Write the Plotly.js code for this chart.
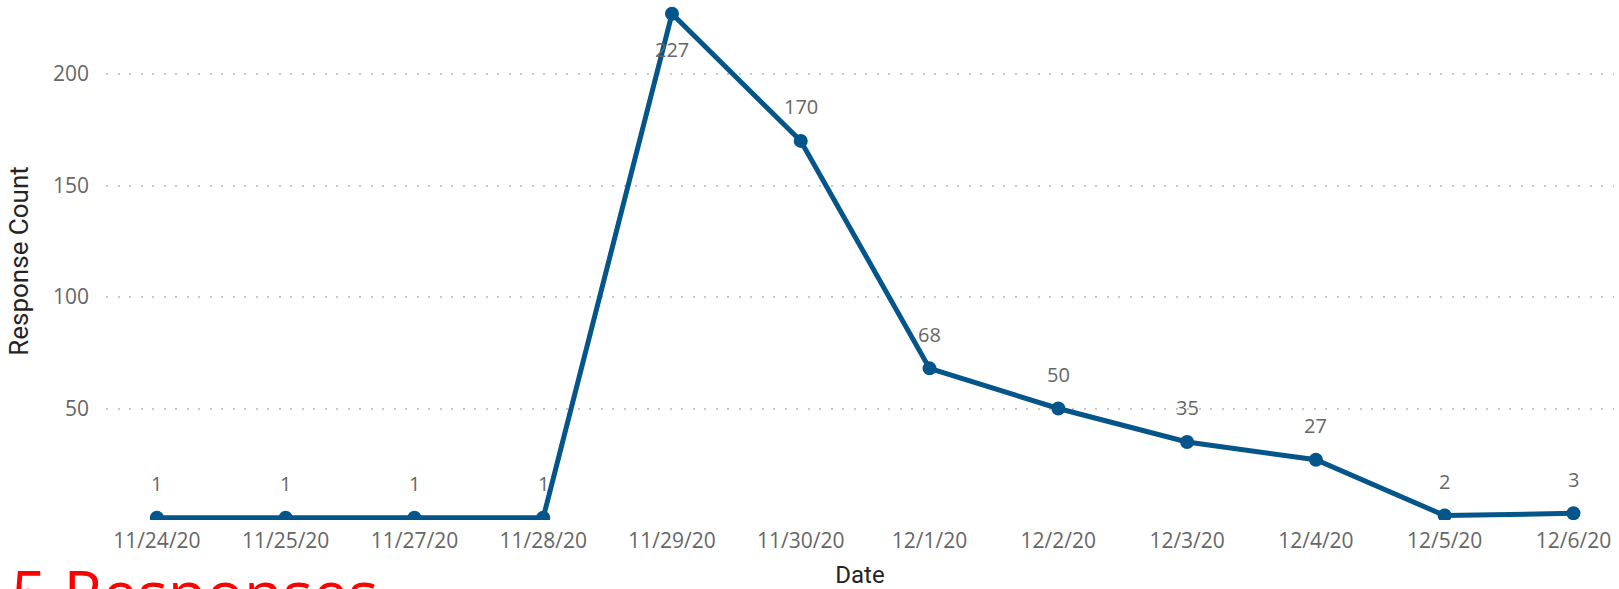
<!DOCTYPE html>
<html>
<head>
<meta charset="utf-8">
<script src="https://cdn.plot.ly/plotly-3.0.1.min.js"></script>
<style>
  html, body { margin: 0; padding: 0; background: #ffffff; }
  #chart { width: 1619px; height: 589px; }
</style>
</head>
<body>
<div id="chart"></div>
<script>
// ---- Data ----
const dates = ['11/24/20', '11/25/20', '11/27/20', '11/28/20', '11/29/20', '11/30/20',
               '12/1/20', '12/2/20', '12/3/20', '12/4/20', '12/5/20', '12/6/20'];
const responseCounts = [1, 1, 1, 1, 227, 170, 68, 50, 35, 27, 2, 3];
const yTickValues = [50, 100, 150, 200];
const footerText = '5 Responses';

const lineColor = '#03558A';
const labelColor = '#666666';

// data labels as annotations (below the point when it's at the top)
const yMax = 232.3;
const annotations = dates.map((d, i) => ({
  x: d,
  y: responseCounts[i],
  xref: 'x',
  yref: 'y',
  text: String(responseCounts[i]),
  showarrow: false,
  xanchor: 'center',
  yanchor: 'middle',
  yshift: responseCounts[i] > yMax - 20 ? -36 : 34,
  font: { family: 'Open Sans, sans-serif', size: 20, color: labelColor }
}));

annotations.push({
  xref: 'paper', yref: 'paper',
  x: -0.0645, y: -0.052,
  xanchor: 'left', yanchor: 'top',
  text: footerText,
  showarrow: false,
  font: { family: 'Open Sans, sans-serif', size: 63, color: '#FF0000' }
});

const trace = {
  type: 'scatter',
  mode: 'lines+markers',
  x: dates,
  y: responseCounts,
  line: { color: lineColor, width: 5 },
  marker: { color: lineColor, size: 14 },
  cliponaxis: true,
  hoverinfo: 'x+y'
};

const layout = {
  width: 1619,
  height: 589,
  margin: { l: 106, r: 5, t: 2, b: 69 },
  paper_bgcolor: '#ffffff',
  plot_bgcolor: '#ffffff',
  showlegend: false,
  xaxis: {
    type: 'category',
    categoryarray: dates,
    range: [-0.395, 11.315],
    showgrid: false,
    zeroline: false,
    showline: false,
    ticks: '',
    ticklabelstandoff: 6,
    tickfont: { family: 'Open Sans, sans-serif', size: 21, color: labelColor },
    title: {
      text: 'Date',
      font: { family: 'Roboto, sans-serif', size: 24, color: '#252423' },
      standoff: 14
    }
  },
  yaxis: {
    range: [0, yMax],
    tickvals: yTickValues,
    ticktext: yTickValues.map(String),
    showgrid: true,
    gridcolor: '#C8C8C8',
    gridwidth: 2,
    griddash: '2px,9.5px',
    zeroline: false,
    showline: false,
    ticks: '',
    ticklabelstandoff: 16,
    tickfont: { family: 'Open Sans, sans-serif', size: 21, color: labelColor },
    title: {
      text: 'Response Count',
      font: { family: 'Roboto, sans-serif', size: 26, color: '#252423' },
      standoff: 16
    }
  },
  annotations: annotations
};

Plotly.newPlot('chart', [trace], layout, { displayModeBar: false, staticPlot: true });
</script>
</body>
</html>
